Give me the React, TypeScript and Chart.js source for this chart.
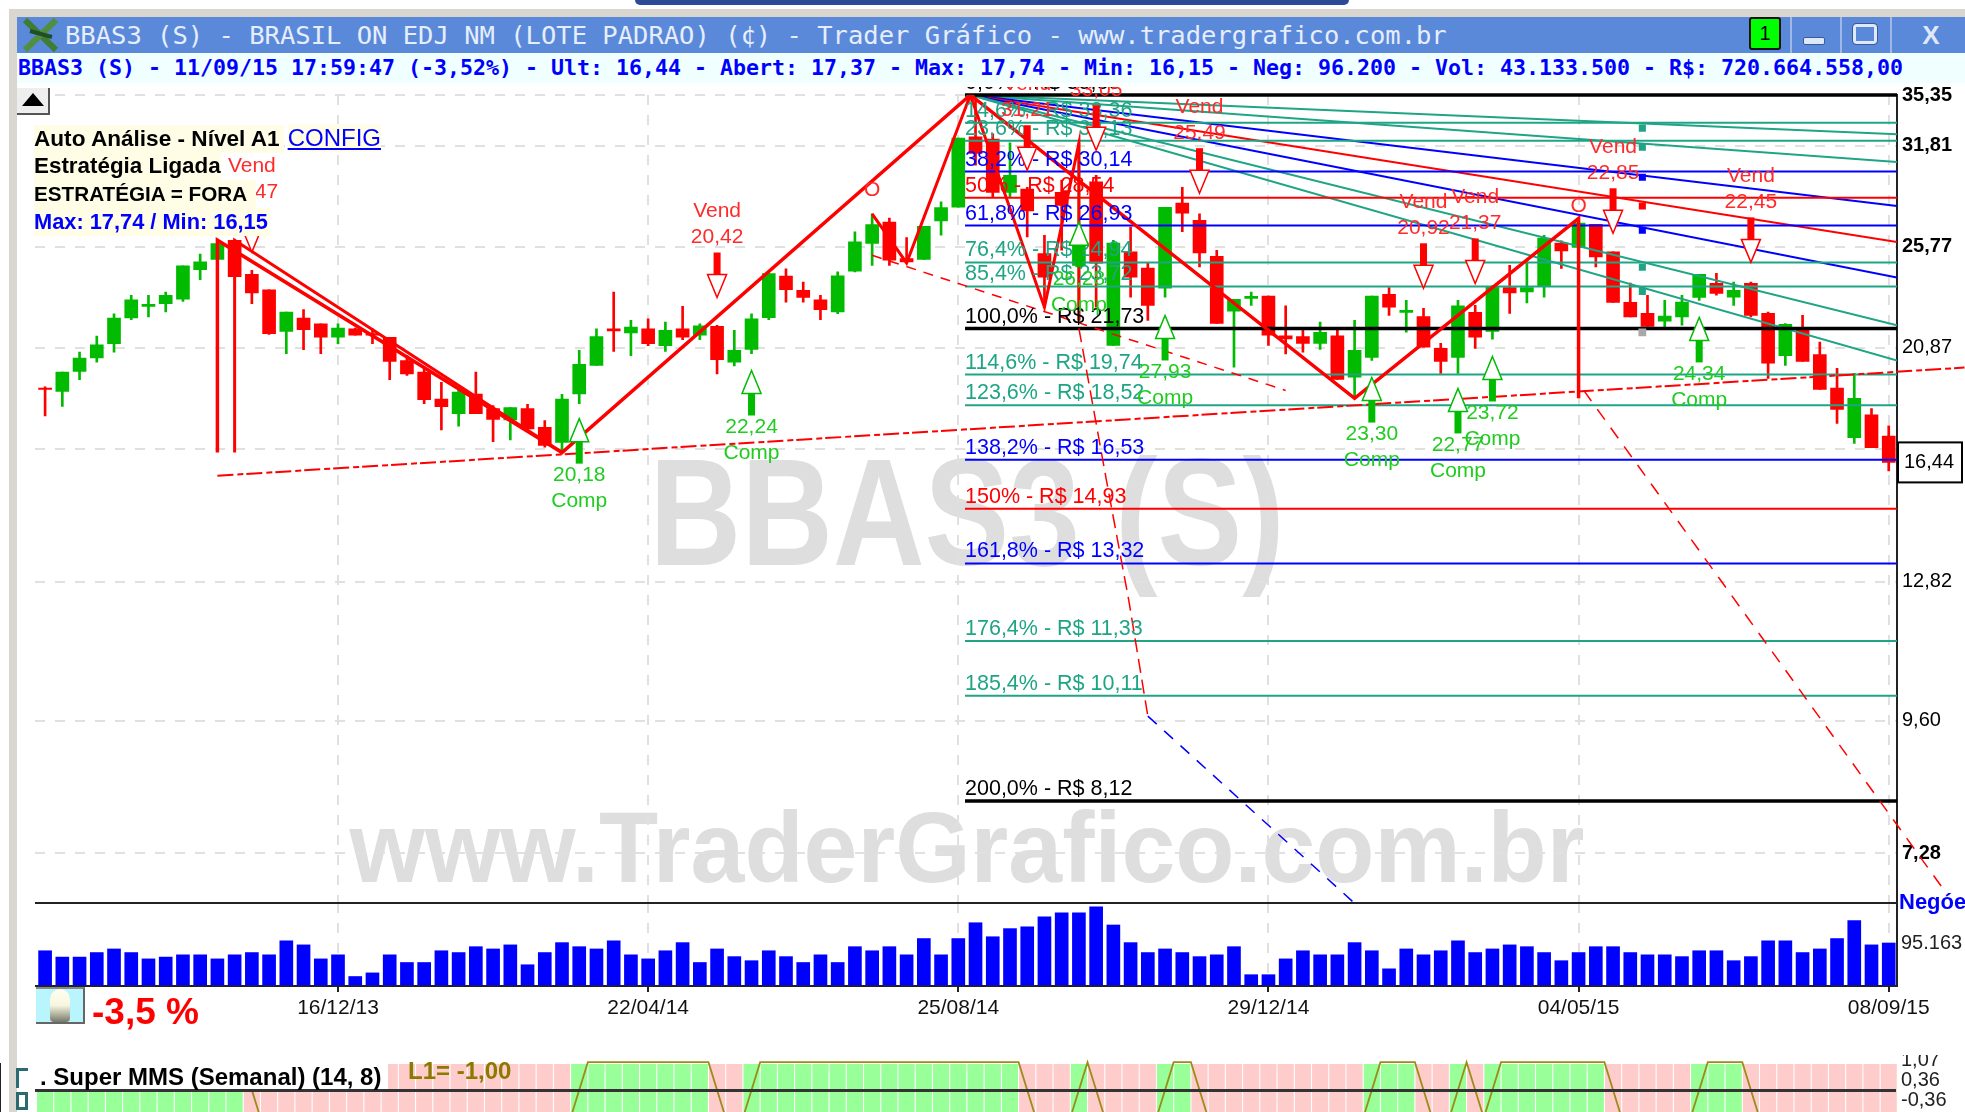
import React, { useEffect, useRef } from "react";
import { Chart, registerables } from "chart.js";

Chart.register(...registerables);

// ---------- DATA ----------
const openPrices = [19.19,19.06,19.87,20.44,21.05,22.21,22.76,22.89,23.10,24.57,25.10,26.12,24.33,23.56,21.60,22.21,21.94,21.34,21.72,21.50,21.34,20.33,19.84,18.76,18.20,18.96,18.39,17.96,18.39,17.69,17.14,18.96,20.12,21.72,21.53,21.72,20.97,21.72,21.43,21.83,20.26,20.80,22.23,24.24,23.53,23.07,22.49,24.49,25.94,27.12,25.14,25.10,27.19,27.98,32.40,32.25,28.86,29.05,25.40,28.86,24.79,29.50,20.98,25.49,24.65,23.63,28.22,27.23,25.26,22.53,23.14,23.25,21.40,21.37,21.07,21.40,19.64,20.46,23.34,22.47,22.28,20.85,20.46,22.47,21.60,23.67,23.45,23.72,25.96,25.73,27.00,25.49,22.95,22.43,22.06,22.26,23.19,23.87,23.20,23.87,22.43,20.54,21.65,20.58,19.19,17.31,18.15,17.37];
const closePrices = [19.14,19.84,20.43,21.00,22.21,23.07,22.85,23.29,24.76,24.97,25.94,24.21,23.40,21.50,22.49,21.68,21.34,21.75,21.43,21.43,20.29,19.77,18.74,18.46,19.03,18.20,17.98,18.43,17.63,17.03,18.76,20.17,21.37,21.62,21.80,21.05,21.65,21.34,21.85,20.36,20.76,22.17,24.36,23.56,23.18,22.60,24.25,26.03,26.99,25.05,24.97,26.89,27.96,32.31,31.30,28.86,29.90,27.76,24.18,28.09,26.12,24.90,25.96,24.18,22.80,27.97,27.63,25.44,21.96,23.09,23.24,21.43,21.26,21.07,21.56,19.54,20.76,23.25,22.72,22.57,20.90,20.29,22.78,21.34,23.68,23.40,23.67,26.23,25.54,27.07,25.23,22.95,22.26,21.83,22.30,22.96,24.33,23.38,23.53,22.33,20.22,21.92,20.29,19.14,18.36,18.79,16.95,16.44];
const highPrices = [19.24,19.84,20.69,21.39,22.41,23.29,23.29,23.45,24.76,25.37,26.12,26.12,24.53,23.56,22.49,22.60,21.94,21.94,21.75,21.72,21.34,20.54,20.05,19.43,19.16,19.84,18.51,18.43,18.55,17.94,18.95,20.76,21.72,23.45,22.10,22.17,22.02,22.76,21.94,21.88,21.65,22.41,24.36,24.61,23.94,23.29,24.45,26.58,27.60,27.36,26.27,26.89,28.29,32.31,35.35,32.60,32.00,29.17,26.39,29.60,31.98,29.90,26.12,26.85,24.90,27.97,29.17,27.60,25.58,23.09,23.45,23.25,22.78,21.69,22.02,21.74,22.10,23.25,23.67,23.04,22.66,21.07,23.04,22.80,23.77,24.79,24.97,26.39,26.08,27.34,27.00,25.49,23.89,23.29,23.04,23.29,24.33,24.38,23.94,23.94,22.49,21.96,22.33,21.13,20.00,19.79,18.39,17.74];
const lowPrices = [18.11,18.47,19.53,20.26,20.69,22.14,22.26,22.49,22.99,24.06,24.70,24.21,22.89,21.46,20.62,20.79,20.62,21.05,21.43,21.05,19.53,19.71,18.58,17.59,17.73,18.20,17.17,17.23,17.57,16.97,16.79,18.58,20.12,20.72,20.54,20.97,20.72,21.23,21.23,19.77,20.10,20.62,22.14,22.96,22.96,22.14,22.41,24.45,24.79,24.79,24.91,25.10,26.39,27.98,30.54,28.60,28.60,26.30,22.72,25.58,22.10,22.72,20.98,23.20,22.10,23.20,26.59,24.70,21.96,20.05,22.80,20.98,20.61,20.69,20.80,19.54,18.83,20.33,22.33,21.57,20.90,19.79,19.79,20.85,21.25,22.43,22.92,23.20,24.63,25.73,24.70,22.95,22.26,21.83,21.80,21.88,23.04,23.29,22.80,22.26,19.58,20.12,20.29,19.14,17.83,17.10,16.95,16.15];
const volumeValues = [78000,64000,64000,74000,82000,74000,60000,64000,69000,69000,60000,69000,74000,69000,100000,91000,60000,69000,21000,29000,69000,52000,52000,78000,74000,87000,82000,91000,47000,74000,96000,87000,82000,100000,69000,60000,78000,96000,52000,82000,65000,56000,78000,65000,52000,69000,52000,87000,78000,87000,69000,105000,69000,105000,140000,109000,127000,131000,153000,162000,162000,175000,135000,96000,74000,82000,74000,65000,69000,87000,25000,25000,60000,78000,69000,69000,96000,78000,38000,82000,69000,78000,100000,74000,82000,91000,87000,74000,56000,74000,87000,87000,74000,69000,69000,65000,78000,78000,56000,65000,100000,100000,74000,82000,105000,145000,91000,95163];
const indicatorSigns = [1,1,1,1,1,1,1,1,1,1,1,1,-1,-1,-1,-1,-1,-1,-1,-1,-1,-1,-1,-1,-1,-1,-1,-1,-1,-1,-1,1,1,1,1,1,1,1,1,-1,-1,1,1,1,1,1,1,1,1,1,1,1,1,1,1,1,1,-1,-1,-1,1,-1,-1,-1,-1,1,1,-1,-1,-1,-1,-1,-1,-1,-1,-1,-1,1,1,1,-1,-1,1,-1,1,1,1,1,1,1,1,-1,-1,-1,-1,-1,1,1,1,-1,-1,-1,-1,-1,-1,-1,-1,-1];

const dateTickIndex = [17, 35, 53, 71, 89, 107];
const dateTickLabels = ["16/12/13", "22/04/14", "25/08/14", "29/12/14", "04/05/15", "08/09/15"];
const priceTicks = [35.35, 31.81, 25.77, 20.87, 16.92, 12.82, 9.6, 7.28];
const priceTickLabels = ["35,35", "31,81", "25,77", "20,87", "", "12,82", "9,60", "7,28"];
const priceTickBold = [true, true, true, false, false, false, false, true];
const lastPrice = 16.44;
const lastPriceLabel = "16,44";
const volumeTicks = [183700, 95163, 0];
const volumeTickLabels = ["", "95.163", ""];
const indicatorTicks = [1.07, 0.36, 0, -0.36];
const indicatorTickLabels = ["1,07", "0,36", "", "-0,36"];

const fibPrices = [35.35, 33.36, 32.13, 30.14, 28.54, 26.93, 24.94, 23.72, 21.73, 19.74, 18.52, 16.53, 14.93, 13.32, 11.33, 10.11, 8.12];
const fibLabels = ["0,0% - R$ 35,35", "14,6% - R$ 33,36", "23,6% - R$ 32,13", "38,2% - R$ 30,14", "50% - R$ 28,54", "61,8% - R$ 26,93", "76,4% - R$ 24,94", "85,4% - R$ 23,72", "100,0% - R$ 21,73", "114,6% - R$ 19,74", "123,6% - R$ 18,52", "138,2% - R$ 16,53", "150% - R$ 14,93", "161,8% - R$ 13,32", "176,4% - R$ 11,33", "185,4% - R$ 10,11", "200,0% - R$ 8,12"];
const fibKinds = ["k", "g", "g", "b", "r", "b", "g", "g", "k", "g", "g", "b", "r", "b", "g", "g", "k"];
const fibStartIndex = 53.39;
const peakIndex = 53.7;
const peakPrice = 35.35;
const fanEndPrices = [32.58, 30.74, 28.05, 26.02, 24.17, 21.88, 20.33];
const fanKinds = ["g", "g", "b", "r", "b", "g", "g"];
const fanMarkerIndex = 92.7;
const fanMarkerPrices = [32.99, 31.7, 29.78, 28.05, 26.67, 24.69, 23.48];
const fanMarkerKinds = ["g", "g", "b", "r", "b", "g", "g"];
const grayMarkers = [[53.7, 35.05], [92.7, 21.56]];

const thickTrendA = [[10, 16.78], [10, 26.12], [30, 16.78], [53.7, 35.35], [76, 18.79], [89, 27.34], [89, 18.79]];
const thickTrendB = [[11, 16.78], [11, 26.12], [30, 16.78]];
const thickTrendC = [[48, 27.6], [50, 24.91], [53.7, 35.35], [58, 22.72], [60, 31.98], [60, 22.1]];
const dashSupport = [[10, 15.99], [111.4, 20.03]];
const dashFall = [[48, 25.31], [72, 19.1]];
const dashSteep = [[60, 21.74], [61.6, 15.83], [62.9, 12.32], [64, 9.69]];
const dashBlue = [[64, 9.69], [76, 6.56]];
const dashRight = [[89.3, 19.1], [110.4, 6.68]];

const compIndex = [31, 41, 60, 65, 77, 82, 84, 96];
const compPrices = [18.01, 19.91, 27.12, 22.33, 19.62, 19.18, 20.5, 22.24];
const compLabels = ["20,18", "22,24", "26,28", "27,93", "23,30", "22,77", "23,72", "24,34"];
const vendIndex = [12, 39, 57, 61, 67, 80, 83, 91, 99];
const vendPrices = [25.48, 23.18, 30.22, 31.51, 28.81, 23.63, 23.87, 26.5, 24.94];
const vendLabels = ["25,47", "20,42", "31,21", "33,05", "25,49", "20,92", "21,37", "22,85", "22,45"];
const openMarkIndex = [48, 89];
const openMarkPrices = [28.99, 28.05];

// ---------- STYLE ----------
const GREEN = "#00bb00";
const RED = "#ff0000";
const BLUE = "#0000ff";
const TEAL = "#1fa585";
const kindColor: Record<string, string> = { k: "#000000", g: TEAL, b: BLUE, r: RED };
const LABEL_GREEN = "#1fcc1f";
const LABEL_RED = "#ff2a2a";
const SANS = '"Liberation Sans", Arial, sans-serif';
const MONO = '"DejaVu Sans Mono", monospace';
const X_MIN = -0.586;
const X_MAX = 107.48;
const GRID = "#e0e0e0";

const pts = (a: number[][]) => a.map(([x, y]) => ({ x, y }));
const candleColors = openPrices.map((o, i) => (closePrices[i] >= o ? GREEN : RED));

function withOrder(list: any[]) {
  return list.map((d, i) => ({ ...d, order: list.length - i }));
}

function lineDs(data: any[], color: string, width: number, dash: number[] = [], clip: any = undefined) {
  const d: any = { type: "line", data, borderColor: color, borderWidth: width, borderDash: dash, pointRadius: 0, tension: 0, fill: false };
  if (clip !== undefined) d.clip = clip;
  return d;
}

function fitY(scale: any) {
  scale.width = 68;
  scale.paddingTop = 0;
  scale.paddingBottom = 0;
}

function xOpts(extra: any) {
  return { type: "linear", min: X_MIN, max: X_MAX, offset: false, ...extra };
}

// ---------- PLUGINS ----------
function wmText(ctx: any, text: string, cx: number, base: number, targetW: number, font: string) {
  ctx.save();
  ctx.font = font;
  ctx.fillStyle = "#dedede";
  ctx.textAlign = "center";
  ctx.textBaseline = "alphabetic";
  const w = ctx.measureText(text).width;
  ctx.translate(cx, base);
  ctx.scale(targetW / w, 1);
  ctx.fillText(text, 0, 0);
  ctx.restore();
}

const pricePlugin = {
  id: "priceOverlay",
  beforeDraw(chart: any) {
    const { ctx } = chart;
    const top = chart.canvas.offsetTop;
    wmText(ctx, "BBAS3 (S)", 967, 565 - top, 635, `bold 153px ${SANS}`);
    wmText(ctx, "www.TraderGrafico.com.br", 967, 882 - top, 1235, `bold 100px ${SANS}`);
  },
  afterDatasetsDraw(chart: any) {
    const { ctx, scales } = chart;
    const X = scales.x;
    const Y = scales.y;
    ctx.save();
    ctx.font = `21.5px ${SANS}`;
    ctx.textAlign = "left";
    ctx.textBaseline = "alphabetic";
    fibLabels.forEach((t, i) => {
      ctx.fillStyle = kindColor[fibKinds[i]];
      ctx.fillText(t, X.getPixelForValue(fibStartIndex), Y.getPixelForValue(fibPrices[i]) - 6);
    });
    const drawArrow = (xp: number, tip: number, dir: number, color: string, labelColor: string, value: string, word: string) => {
      const baseY = tip + dir * 23;
      const endY = tip + dir * 45;
      ctx.fillStyle = color;
      ctx.fillRect(xp - 3.5, Math.min(baseY, endY), 7, Math.abs(endY - baseY));
      ctx.beginPath();
      ctx.moveTo(xp, tip);
      ctx.lineTo(xp + 9.5, baseY);
      ctx.lineTo(xp + 3.5, baseY);
      ctx.lineTo(xp - 3.5, baseY);
      ctx.lineTo(xp - 9.5, baseY);
      ctx.closePath();
      ctx.fillStyle = "#ffffff";
      ctx.fill();
      ctx.strokeStyle = color;
      ctx.lineWidth = 1.5;
      ctx.stroke();
      ctx.font = `21px ${SANS}`;
      ctx.textAlign = "center";
      ctx.textBaseline = "middle";
      ctx.fillStyle = labelColor;
      const near = dir > 0 ? 57 : -60;
      const far = dir > 0 ? 83 : -86;
      ctx.fillText(value, xp, tip + near);
      ctx.fillText(word, xp, tip + far);
    };
    compIndex.forEach((ix, i) => {
      drawArrow(X.getPixelForValue(ix), Y.getPixelForValue(compPrices[i]), 1, GREEN, LABEL_GREEN, compLabels[i], "Comp");
    });
    vendIndex.forEach((ix, i) => {
      drawArrow(X.getPixelForValue(ix), Y.getPixelForValue(vendPrices[i]), -1, RED, LABEL_RED, vendLabels[i], "Vend");
    });
    ctx.font = `21px ${SANS}`;
    ctx.fillStyle = LABEL_RED;
    ctx.textAlign = "center";
    ctx.textBaseline = "middle";
    openMarkIndex.forEach((ix, i) => {
      ctx.fillText("O", X.getPixelForValue(ix), Y.getPixelForValue(openMarkPrices[i]));
    });
    const yLast = Y.getPixelForValue(lastPrice);
    const bx = chart.chartArea.right + 1;
    ctx.fillStyle = "#ffffff";
    ctx.fillRect(bx, yLast - 20, 64, 40);
    ctx.strokeStyle = "#000000";
    ctx.lineWidth = 2;
    ctx.strokeRect(bx, yLast - 20, 64, 40);
    ctx.fillStyle = "#000000";
    ctx.font = `20px ${SANS}`;
    ctx.textAlign = "left";
    ctx.fillText(lastPriceLabel, bx + 6, yLast);
    ctx.restore();
  },
};

const volumePlugin = {
  id: "volumeOverlay",
  afterDraw(chart: any) {
    const { ctx, chartArea } = chart;
    ctx.save();
    ctx.font = `bold 22px ${SANS}`;
    ctx.fillStyle = BLUE;
    ctx.textAlign = "left";
    ctx.textBaseline = "middle";
    ctx.fillText("Negóe", chartArea.right + 2, chartArea.top);
    ctx.restore();
  },
};

// ---------- CHART CONFIGS ----------
function priceConfig(): any {
  const fib = fibPrices.map((p, i) =>
    lineDs([{ x: fibStartIndex, y: p }, { x: X_MAX, y: p }], kindColor[fibKinds[i]], fibKinds[i] === "k" ? 3.5 : 2, [], false)
  );
  const fans = fanEndPrices.map((p, i) =>
    lineDs([{ x: peakIndex, y: peakPrice }, { x: X_MAX, y: p }], kindColor[fanKinds[i]], 2)
  );
  const markers = {
    type: "scatter",
    data: fanMarkerPrices.map((y) => ({ x: fanMarkerIndex, y })),
    backgroundColor: fanMarkerKinds.map((k) => kindColor[k]),
    pointStyle: "rect",
    pointRadius: 5,
    pointBorderWidth: 0,
    showLine: false,
  };
  const gray = {
    type: "scatter",
    data: pts(grayMarkers),
    backgroundColor: "#a8a8a8",
    pointStyle: "rect",
    pointRadius: 5.5,
    pointBorderWidth: 0,
    showLine: false,
  };
  const list = [
    {
      type: "bar",
      data: highPrices.map((h, i) => ({ x: i, y: [lowPrices[i], h] })),
      backgroundColor: candleColors,
      barThickness: 2,
      grouped: false,
    },
    {
      type: "bar",
      data: openPrices.map((o, i) => ({ x: i, y: [o, closePrices[i]] })),
      backgroundColor: candleColors,
      barThickness: 13,
      grouped: false,
    },
    ...fans,
    ...fib,
    markers,
    gray,
    lineDs(pts(dashSupport), RED, 2, [16, 4, 6, 3], false),
    lineDs(pts(dashFall), RED, 1.5, [10, 8]),
    lineDs(pts(dashSteep), RED, 1.5, [14, 7]),
    lineDs(pts(dashBlue), BLUE, 1.5, [12, 10]),
    lineDs(pts(dashRight), RED, 1.5, [13, 10], false),
    lineDs(pts(thickTrendB), RED, 3),
    lineDs(pts(thickTrendA), RED, 3.5),
    lineDs(pts(thickTrendC), RED, 3),
  ];
  return {
    type: "line",
    data: { datasets: withOrder(list) },
    plugins: [pricePlugin],
    options: {
      animation: false,
      responsive: false,
      events: [],
      layout: { padding: { left: 35, right: 0, top: 8, bottom: 1 } },
      plugins: { legend: { display: false }, tooltip: { enabled: false } },
      scales: {
        x: xOpts({
          grid: { color: GRID, lineWidth: 2, offset: false, drawTicks: false },
          border: { display: false, dash: [10, 10] },
          ticks: { display: false, autoSkip: false },
          afterBuildTicks: (s: any) => { s.ticks = dateTickIndex.map((value) => ({ value })); },
          afterFit: (s: any) => { s.height = 0; s.paddingLeft = 0; s.paddingRight = 0; },
        }),
        y: {
          type: "logarithmic",
          position: "right",
          min: 6.53,
          max: 35.35,
          beginAtZero: false,
          grid: { color: GRID, lineWidth: 2, drawTicks: false },
          border: { display: true, color: "#222222", width: 2, dash: [10, 10] },
          ticks: {
            autoSkip: false,
            padding: 5,
            color: "#000000",
            crossAlign: "near",
            callback: (_v: any, i: number) => priceTickLabels[i],
            font: (c: any) => ({ family: SANS, size: 20, weight: priceTickBold[c.index] ? "bold" : "normal" }),
          },
          afterBuildTicks: (s: any) => { s.ticks = priceTicks.map((value) => ({ value })); },
          afterFit: fitY,
        },
      },
    },
  };
}

function volumeConfig(): any {
  return {
    type: "line",
    data: {
      datasets: [
        {
          type: "bar",
          data: volumeValues.map((y, x) => ({ x, y })),
          backgroundColor: BLUE,
          barThickness: 13,
          grouped: false,
        },
      ],
    },
    plugins: [volumePlugin],
    options: {
      animation: false,
      responsive: false,
      events: [],
      layout: { padding: { left: 35, right: 0, top: 15, bottom: 0 } },
      plugins: { legend: { display: false }, tooltip: { enabled: false } },
      scales: {
        x: xOpts({
          grid: { color: GRID, lineWidth: 2, offset: false, tickColor: "#222222", tickLength: 6, tickBorderDash: [], tickWidth: 2 },
          border: { display: false, dash: [10, 10] },
          ticks: {
            autoSkip: false,
            maxRotation: 0,
            padding: 4,
            color: "#111111",
            font: { family: SANS, size: 21 },
            callback: (v: any) => dateTickLabels[dateTickIndex.indexOf(v)],
          },
          afterBuildTicks: (s: any) => { s.ticks = dateTickIndex.map((value) => ({ value })); },
          afterFit: (s: any) => { s.height = 44; s.paddingLeft = 0; s.paddingRight = 0; },
        }),
        y: {
          type: "linear",
          position: "right",
          min: 0,
          max: 183700,
          beginAtZero: false,
          grid: {
            drawTicks: false,
            color: (c: any) => (c.tick && c.tick.value === 95163 ? "rgba(0,0,0,0)" : "#222222"),
            lineWidth: 2,
          },
          border: { display: true, color: "#222222", width: 2 },
          ticks: {
            autoSkip: false,
            padding: 4,
            color: "#222222",
            crossAlign: "near",
            font: { family: SANS, size: 20 },
            callback: (_v: any, i: number) => volumeTickLabels[i],
          },
          afterBuildTicks: (s: any) => { s.ticks = volumeTicks.map((value) => ({ value })); },
          afterFit: fitY,
        },
      },
    },
  };
}

function indicatorConfig(): any {
  const list = [
    {
      type: "bar",
      data: indicatorSigns.map((_s, x) => ({ x, y: [-3, 0.935] })),
      backgroundColor: indicatorSigns.map((s) => (s > 0 ? "#99ff99" : "#ffcccc")),
      barThickness: 15.5,
      grouped: false,
    },
    lineDs(indicatorSigns.map((y, i) => ({ x: i + 0.5, y })), "#9c8c18", 1.8, [], false),
  ];
  return {
    type: "line",
    data: { datasets: withOrder(list) },
    options: {
      animation: false,
      responsive: false,
      events: [],
      layout: { padding: { left: 35, right: 0, top: 9, bottom: 0 } },
      plugins: { legend: { display: false }, tooltip: { enabled: false } },
      scales: {
        x: xOpts({
          display: false,
          grid: { display: false, offset: false },
        }),
        y: {
          type: "linear",
          position: "right",
          min: -0.79,
          max: 0.935,
          beginAtZero: false,
          grid: {
            z: 1,
            drawTicks: false,
            color: (c: any) => (c.tick && c.tick.value === 0 ? "#333333" : "rgba(0,0,0,0)"),
            lineWidth: 3,
          },
          border: { display: true, color: "#222222", width: 2 },
          ticks: {
            autoSkip: false,
            padding: 4,
            color: "#222222",
            crossAlign: "near",
            font: { family: SANS, size: 20 },
            callback: (_v: any, i: number) => indicatorTickLabels[i],
          },
          afterBuildTicks: (s: any) => { s.ticks = indicatorTicks.map((value) => ({ value })); },
          afterFit: fitY,
        },
      },
    },
  };
}

// ---------- PAGE ----------
const abs = (left: number, top: number, width: number, height: number, extra: any = {}): any => ({
  position: "absolute", left, top, width, height, ...extra,
});

function Row({ top, size = 22, children }: any) {
  return (
    <div style={{ position: "absolute", left: 34, top, height: 28, whiteSpace: "nowrap", font: `bold ${size}px/28px ${SANS}` }}>
      {children}
    </div>
  );
}

export default function App() {
  const priceRef = useRef<HTMLCanvasElement>(null);
  const volRef = useRef<HTMLCanvasElement>(null);
  const indRef = useRef<HTMLCanvasElement>(null);

  useEffect(() => {
    const charts = [
      new Chart(priceRef.current as any, priceConfig()),
      new Chart(volRef.current as any, volumeConfig()),
      new Chart(indRef.current as any, indicatorConfig()),
    ];
    return () => charts.forEach((c) => c.destroy());
  }, []);

  const cream = "#fffde6";
  return (
    <div style={{ position: "fixed", left: 0, top: 0, width: 1965, height: 1112, overflow: "hidden", background: "#ffffff" }}>
      <div style={abs(635, 0, 714, 5, { background: "#2c4a96", borderRadius: "0 0 14px 14px" })} />
      <div style={abs(9, 9, 1956, 8, { background: "#d9d6cf" })} />
      <div style={abs(9, 9, 8, 1103, { background: "#d9d6cf" })} />
      <div style={abs(17, 17, 1948, 36, { background: "#5b89da" })} />
      <div style={abs(17, 53, 1948, 30, { background: "#f0ffff" })} />
      <svg style={abs(22, 17, 38, 36)} viewBox="0 0 38 36">
        <line x1="3" y1="3" x2="34" y2="33" stroke="#3e7d33" strokeWidth="6" />
        <line x1="34" y1="3" x2="3" y2="33" stroke="#4f8f3f" strokeWidth="6" />
        <line x1="8" y1="14" x2="30" y2="20" stroke="#1f4f22" strokeWidth="4" />
      </svg>
      <div style={abs(65, 17, 1400, 36, { font: `25.5px/36px ${MONO}`, color: "#e6eefc", whiteSpace: "nowrap" })}>
        BBAS3 (S) - BRASIL ON EDJ NM (LOTE PADRAO) (¢) - Trader Gráfico - www.tradergrafico.com.br
      </div>
      <div style={abs(18, 53, 1940, 30, { font: `bold 21.6px/30px ${MONO}`, color: BLUE, whiteSpace: "nowrap" })}>
        BBAS3 (S) - 11/09/15 17:59:47 (-3,52%) - Ult: 16,44 - Abert: 17,37 - Max: 17,74 - Min: 16,15 - Neg: 96.200 - Vol: 43.133.500 - R$: 720.664.558,00
      </div>
      <div style={abs(1749, 17, 32, 33, { background: "#00ff00", border: "2px solid #111", borderRadius: 3, boxSizing: "border-box", textAlign: "center", font: `20px/28px ${SANS}`, color: "#000" })}>1</div>
      <div style={abs(1790, 17, 2, 36, { background: "#9fb8e8" })} />
      <div style={abs(1840, 17, 2, 36, { background: "#9fb8e8" })} />
      <div style={abs(1890, 17, 2, 36, { background: "#9fb8e8" })} />
      <div style={abs(1803, 37, 22, 8, { background: "#dfe8f8", border: "1px solid #3a5a9a", boxSizing: "border-box", borderRadius: 2 })} />
      <div style={abs(1853, 24, 24, 20, { border: "3px solid #dfe8f8", outline: "1px solid #3a5a9a", boxSizing: "border-box", borderRadius: 3 })} />
      <div style={abs(1915, 17, 32, 36, { font: `bold 26px/36px ${SANS}`, color: "#dfe8f8", textAlign: "center" })}>X</div>

      <canvas ref={priceRef} width={1965} height={824} style={abs(0, 87, 1965, 824, { display: "block" })} />
      <canvas ref={volRef} width={1965} height={142} style={abs(0, 888, 1965, 142, { display: "block" })} />
      <canvas ref={indRef} width={1965} height={57} style={abs(0, 1055, 1965, 57, { display: "block" })} />

      <div style={abs(17, 88, 33, 27, { background: "#eeeeee", borderRight: "2px solid #555", borderBottom: "2px solid #555", boxSizing: "border-box" })}>
        <div style={{ width: 0, height: 0, margin: "5px auto 0", borderLeft: "11px solid transparent", borderRight: "11px solid transparent", borderBottom: "13px solid #000" }} />
      </div>

      <Row top={124} size={22.6}>
        <span style={{ background: cream, paddingRight: 4, color: "#000", display: "inline-block" }}>Auto Análise - Nível A1</span>
        <span style={{ background: cream, marginLeft: 4, color: BLUE, font: `24px/28px ${SANS}`, textDecoration: "underline", display: "inline-block" }}>CONFIG</span>
      </Row>
      <Row top={152} size={22.4}>
        <span style={{ background: cream, color: "#000", display: "inline-block" }}>Estratégia Ligada</span>
      </Row>
      <Row top={180} size={20.7}>
        <span style={{ background: cream, color: "#000", display: "inline-block", minWidth: 222 }}>ESTRATÉGIA = FORA</span>
      </Row>
      <Row top={208} size={21.8}>
        <span style={{ background: cream, color: BLUE, display: "inline-block", paddingRight: 2 }}>Max: 17,74 / Min: 16,15</span>
      </Row>

      <div style={abs(36, 987, 49, 37, { background: "#b8f5fc", borderRight: "2px solid #666", borderBottom: "2px solid #666", borderTop: "2px solid #888", boxSizing: "border-box" })}>
        <div style={{ width: 20, height: 33, margin: "0 auto", background: "linear-gradient(#fffff0 0%, #f6f6e0 50%, #77776a 100%)", borderRadius: "10px 10px 4px 4px" }} />
      </div>
      <div style={abs(92, 990, 130, 44, { font: `bold 37px/44px ${SANS}`, color: RED, whiteSpace: "nowrap" })}>-3,5 %</div>

      <div style={abs(35, 1060, 353, 29, { background: "#ffffff" })} />
      <div style={abs(40, 1062, 350, 30, { font: `bold 24px/30px ${SANS}`, color: "#000", whiteSpace: "nowrap" })}>. Super MMS (Semanal) (14, 8)</div>
      <div style={abs(408, 1056, 120, 30, { font: `bold 24px/30px ${SANS}`, color: "#8a7a00", whiteSpace: "nowrap" })}>L1= -1,00</div>
      <div style={abs(16, 1068, 12, 20, { borderLeft: "3px solid #2a6a70", borderTop: "3px solid #2a6a70", boxSizing: "border-box" })} />
      <div style={abs(16, 1092, 12, 18, { border: "3px solid #2a6a70", boxSizing: "border-box" })} />
    </div>
  );
}
